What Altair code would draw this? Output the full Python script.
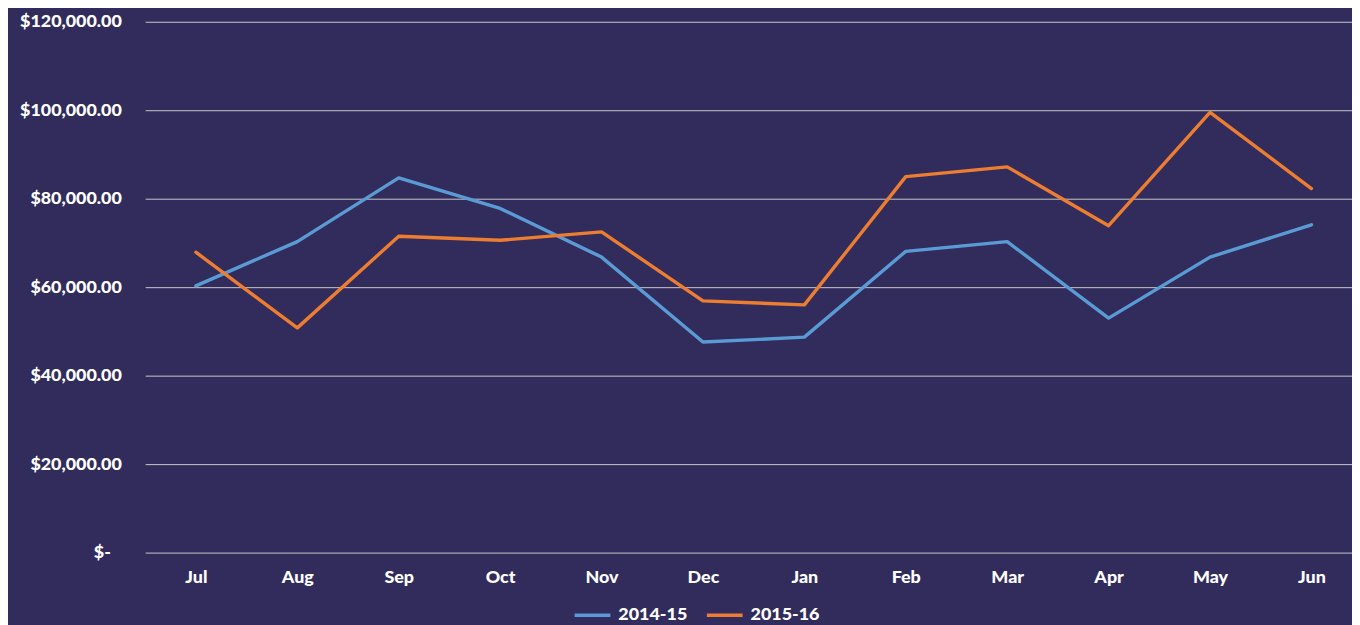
import altair as alt
import pandas as pd

months = ["Jul", "Aug", "Sep", "Oct", "Nov", "Dec", "Jan", "Feb", "Mar", "Apr", "May", "Jun"]
fy_2014_15 = [60300, 70300, 84700, 77800, 66800, 47600, 48700, 68100, 70300, 53000, 66800, 74100]
fy_2015_16 = [67900, 50800, 71500, 70600, 72500, 56900, 56000, 85000, 87200, 73900, 99500, 82300]
series_names = ["2014-15", "2015-16"]
y_ticks = [0, 20000, 40000, 60000, 80000, 100000, 120000]

rows = []
for i, m in enumerate(months):
    rows.append({"idx": i, "month": m, "series": series_names[0], "value": fy_2014_15[i]})
    rows.append({"idx": i, "month": m, "series": series_names[1], "value": fy_2015_16[i]})
df = pd.DataFrame(rows)

month_expr = "[" + ",".join("'%s'" % m for m in months) + "][datum.value]"
FONT = "Lato"
WEIGHT = 900
FS = 18

chart = (
    alt.Chart(df)
    .mark_line(strokeWidth=3.4, strokeCap="round", strokeJoin="round")
    .encode(
        x=alt.X(
            "idx:Q",
            scale=alt.Scale(domain=[-0.5, 11.40], nice=False, zero=False),
            axis=alt.Axis(
                values=list(range(12)),
                labelExpr=month_expr,
                title=None,
                grid=False,
                ticks=False,
                domain=False,
                labelPadding=16,
                labelFontSize=FS,
                labelFont=FONT,
                labelFontWeight=WEIGHT,
                labelColor="white",
            ),
        ),
        y=alt.Y(
            "value:Q",
            scale=alt.Scale(domain=[0, 120000], nice=False),
            axis=alt.Axis(
                values=y_ticks,
                labelExpr="datum.value == 0 ? '$-' : '$' + format(datum.value, ',.2f')",
                title=None,
                grid=True,
                gridColor="#c8c8c8",
                gridWidth=1,
                ticks=False,
                domain=False,
                labelPadding={"condition": {"test": "datum.value == 0", "value": 35}, "value": 24},
                labelFontSize=FS,
                labelFont=FONT,
                labelFontWeight=WEIGHT,
                labelColor="white",
            ),
        ),
        color=alt.Color(
            "series:N",
            scale=alt.Scale(domain=series_names, range=["#5B9BD5", "#ED7D31"]),
            legend=alt.Legend(
                title=None,
                orient="none",
                legendX=430,
                legendY=577,
                direction="horizontal",
                symbolType="stroke",
                symbolSize=1296,
                symbolStrokeWidth=3.4,
                labelFontSize=FS,
                labelFont=FONT,
                labelFontWeight=WEIGHT,
                labelColor="white",
                labelOffset=6,
                columnPadding=12,
            ),
        ),
        detail="series:N",
    )
    .properties(
        width=1214,
        height=534,
        background="#312C5C",
        padding={"left": 138, "top": 12, "right": 0, "bottom": 71},
        autosize=alt.AutoSizeParams(type="none"),
    )
    .configure_view(stroke=None)
)

chart.save("out.html", embed_options={"renderer": "svg", "actions": False})
